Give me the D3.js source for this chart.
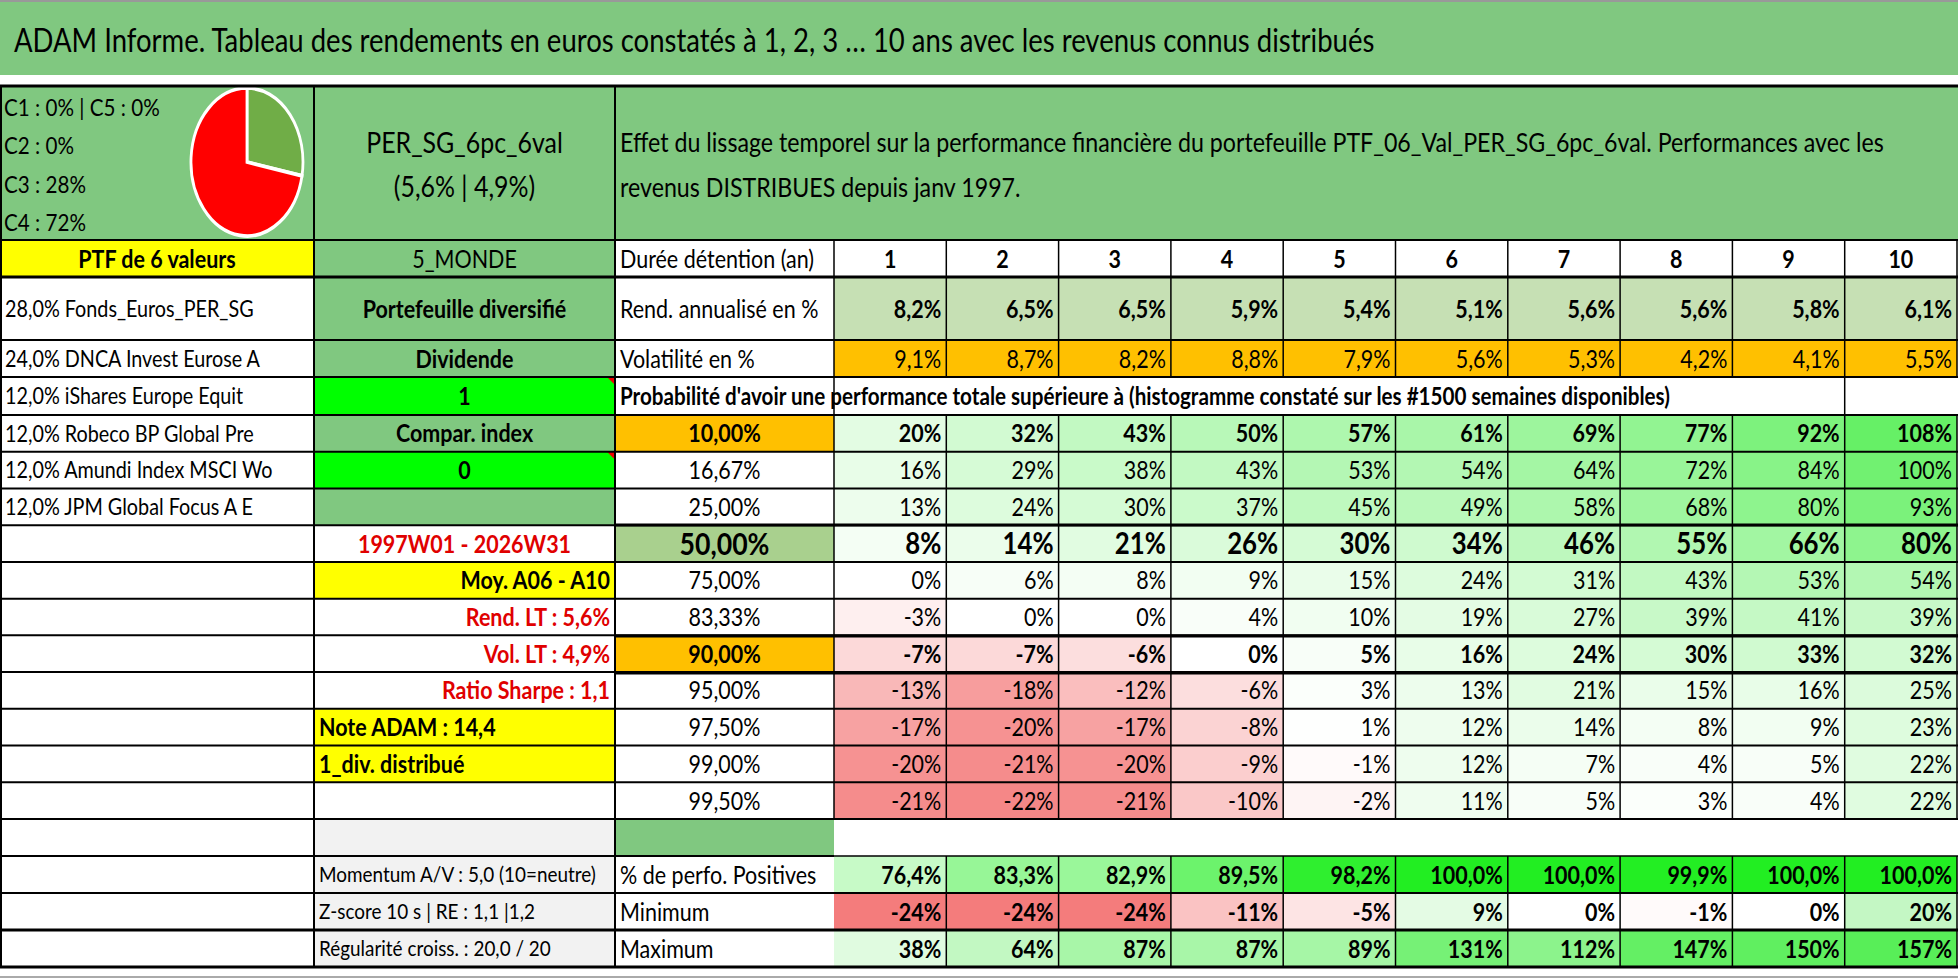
<!DOCTYPE html>
<html>
<head>
<style>
  body { margin: 0; background: #fff; }
  text { font-family: Lato, "Open Sans", sans-serif; }
</style>
</head>
<body>
<script src="https://d3js.org/d3.v7.min.js"></script>
<script>
// ---- data ----
var years = [1, 2, 3, 4, 5, 6, 7, 8, 9, 10];
var rend = [8.2, 6.5, 6.5, 5.9, 5.4, 5.1, 5.6, 5.6, 5.8, 6.1];
var vol = [9.1, 8.7, 8.2, 8.8, 7.9, 5.6, 5.3, 4.2, 4.1, 5.5];
var quantiles = ["10,00%", "16,67%", "25,00%", "50,00%", "75,00%", "83,33%", "90,00%", "95,00%", "97,50%", "99,00%", "99,50%"];
var probMatrix = [
  [20, 32, 43, 50, 57, 61, 69, 77, 92, 108],
  [16, 29, 38, 43, 53, 54, 64, 72, 84, 100],
  [13, 24, 30, 37, 45, 49, 58, 68, 80, 93],
  [8, 14, 21, 26, 30, 34, 46, 55, 66, 80],
  [0, 6, 8, 9, 15, 24, 31, 43, 53, 54],
  [-3, 0, 0, 4, 10, 19, 27, 39, 41, 39],
  [-7, -7, -6, 0, 5, 16, 24, 30, 33, 32],
  [-13, -18, -12, -6, 3, 13, 21, 15, 16, 25],
  [-17, -20, -17, -8, 1, 12, 14, 8, 9, 23],
  [-20, -21, -20, -9, -1, 12, 7, 4, 5, 22],
  [-21, -22, -21, -10, -2, 11, 5, 3, 4, 22]
];
var positives = [76.4, 83.3, 82.9, 89.5, 98.2, 100.0, 100.0, 99.9, 100.0, 100.0];
var minimum = [-24, -24, -24, -11, -5, 9, 0, -1, 0, 20];
var maximum = [38, 64, 87, 87, 89, 131, 112, 147, 150, 157];
var holdings = ["28,0% Fonds_Euros_PER_SG", "24,0% DNCA Invest Eurose A", "12,0% iShares Europe Equit",
  "12,0% Robeco BP Global Pre", "12,0% Amundi Index MSCI Wo", "12,0% JPM Global Focus A E"];
var pieLabels = ["C1 : 0% | C5 : 0%", "C2 : 0%", "C3 : 28%", "C4 : 72%"];
var pieShares = [28, 72];

// ---- layout ----
var W = 1958, H = 979;
var SX = 0.86; // horizontal squeeze to imitate the narrow spreadsheet font
var GREEN = "#80c880", YELLOW = "#ffff00", ORANGE = "#ffc000", LIME = "#00ff00";
var svg = d3.select("body").append("svg").attr("width", W).attr("height", H);

var colX = [0, 314, 615, 834];
var x = d3.scaleBand().domain(years).range([834, 1957]);
var qY = d3.scaleBand().domain(quantiles).range([415, 819]);

function fmt(v, d) { return (d ? v.toFixed(d) : String(v)).replace(".", ",") + "%"; }

function label(tx, ty, s, o) {
  return svg.append("text").attr("transform", "translate(" + tx + "," + ty + ") scale(" + SX + ",1)")
    .attr("dy", "0.36em").attr("text-anchor", o.anchor || "middle").attr("font-size", o.size || 25)
    .attr("font-weight", o.bold ? "bold" : "normal").attr("fill", o.color || "#000").text(s);
}

function cell(x0, x1, y0, y1, o) {
  o = o || {};
  if (o.fill) svg.append("rect").attr("x", x0).attr("y", y0).attr("width", x1 - x0).attr("height", y1 - y0).attr("fill", o.fill);
  if (o.text == null) return;
  var a = o.anchor || "middle";
  var tx = a === "middle" ? (x0 + x1) / 2 : a === "end" ? x1 - 5 : x0 + 5;
  label(tx, (y0 + y1) / 2, o.text, o);
}

// title
svg.append("rect").attr("x", 0).attr("y", 0).attr("width", W).attr("height", 75).attr("fill", GREEN);
svg.append("line").attr("x1", 0).attr("x2", W).attr("y1", 1).attr("y2", 1).attr("stroke", "#999").attr("stroke-width", 2);
label(14, 40, "ADAM Informe. Tableau des rendements en euros constatés à 1, 2, 3 … 10 ans avec les revenus connus distribués", { anchor: "start", size: 32 });

// header block
cell(0, W, 86, 240, { fill: GREEN });
pieLabels.forEach(function (l, i) { label(4, 107 + i * 38.5, l, { anchor: "start", size: 24 }); });
var pie = d3.pie().sort(null)(pieShares);
var arc = d3.arc().innerRadius(0).outerRadius(1);
var pg = svg.append("g").attr("transform", "translate(247,162) scale(56,74)");
pg.selectAll("path").data(pie).enter().append("path")
  .attr("d", arc).attr("fill", function (d, i) { return i === 0 ? "#70ad47" : "#ff0000"; })
  .attr("stroke", "#fff").attr("stroke-width", 0.05);
label((colX[1] + colX[2]) / 2, 143, "PER_SG_6pc_6val", { size: 29 });
label((colX[1] + colX[2]) / 2, 187, "(5,6% | 4,9%)", { size: 29 });
label(620, 142, "Effet du lissage temporel sur la performance financière du portefeuille PTF_06_Val_PER_SG_6pc_6val. Performances avec les", { anchor: "start", size: 27 });
label(620, 187, "revenus DISTRIBUES depuis janv 1997.", { anchor: "start", size: 27 });

// PTF row
cell(colX[0], colX[1], 240, 277, { fill: YELLOW, text: "PTF de 6 valeurs", bold: true });
cell(colX[1], colX[2], 240, 277, { fill: GREEN, text: "5_MONDE" });
cell(colX[2], colX[3], 240, 277, { text: "Durée détention (an)", anchor: "start" });
years.forEach(function (y) { cell(x(y), x(y) + x.bandwidth(), 240, 277, { text: String(y), bold: true }); });

// holdings in column 0
function qRow(i) { return [qY(quantiles[i]), qY(quantiles[i]) + qY.bandwidth()]; }
var holdRows = [[277, 340], [340, 377], [377, 415], qRow(0), qRow(1), qRow(2)];
holdings.forEach(function (h, i) { cell(0, colX[1], holdRows[i][0], holdRows[i][1], { text: h, anchor: "start", size: 23 }); });

// column 1 side info
var side = [
  [holdRows[0], { fill: GREEN, text: "Portefeuille diversifié", bold: true }],
  [holdRows[1], { fill: GREEN, text: "Dividende", bold: true }],
  [holdRows[2], { fill: LIME, text: "1", bold: true }],
  [holdRows[3], { fill: GREEN, text: "Compar. index", bold: true }],
  [holdRows[4], { fill: LIME, text: "0", bold: true }],
  [holdRows[5], { fill: GREEN }]
];
side.forEach(function (s) { cell(colX[1], colX[2], s[0][0], s[0][1], s[1]); });
[holdRows[2], holdRows[4]].forEach(function (r) {
  svg.append("path").attr("d", "M" + (colX[2] - 8) + "," + r[0] + "h8v8z").attr("fill", "#e00");
});
var qSide = {
  "50,00%": { text: "1997W01 - 2026W31", color: "#e00000", bold: true },
  "75,00%": { fill: YELLOW, text: "Moy. A06 - A10", anchor: "end", bold: true },
  "83,33%": { text: "Rend. LT : 5,6%", anchor: "end", bold: true, color: "#e00000" },
  "90,00%": { text: "Vol. LT : 4,9%", anchor: "end", bold: true, color: "#e00000" },
  "95,00%": { text: "Ratio Sharpe : 1,1", anchor: "end", bold: true, color: "#e00000" },
  "97,50%": { fill: YELLOW, text: "Note ADAM : 14,4", anchor: "start", bold: true },
  "99,00%": { fill: YELLOW, text: "1_div. distribué", anchor: "start", bold: true }
};
Object.keys(qSide).forEach(function (q) { cell(colX[1], colX[2], qY(q), qY(q) + qY.bandwidth(), qSide[q]); });

// rend & vol rows
cell(colX[2], colX[3], 277, 340, { text: "Rend. annualisé en %", anchor: "start" });
cell(colX[2], colX[3], 340, 377, { text: "Volatilité en %", anchor: "start" });
years.forEach(function (y, i) {
  cell(x(y), x(y) + x.bandwidth(), 277, 340, { fill: "#c6e0b4", text: fmt(rend[i], 1), anchor: "end", bold: true });
  cell(x(y), x(y) + x.bandwidth(), 340, 377, { fill: ORANGE, text: fmt(vol[i], 1), anchor: "end" });
});
cell(colX[2], x(10), 377, 415, { text: "Probabilité d'avoir une performance totale supérieure à (histogramme constaté sur les #1500 semaines disponibles)", anchor: "start", bold: true, size: 24 });

// quantile matrix
var matColor = d3.scaleLinear().domain([-24, 0, 120]).range(["#f47c7c", "#ffffff", "#55ee55"]).clamp(true);
var boldQ = { "10,00%": 1, "50,00%": 1, "90,00%": 1 };
quantiles.forEach(function (q, r) {
  var y0 = qY(q), y1 = y0 + qY.bandwidth();
  var big = q === "50,00%";
  var qfill = q === "10,00%" || q === "90,00%" ? ORANGE : big ? "#a9d08e" : null;
  cell(colX[2], colX[3], y0, y1, { fill: qfill, text: q, bold: boldQ[q], size: big ? 31 : 25 });
  years.forEach(function (y, i) {
    var v = probMatrix[r][i];
    cell(x(y), x(y) + x.bandwidth(), y0, y1, { fill: matColor(v), text: fmt(v), anchor: "end", bold: boldQ[q], size: big ? 30 : 25 });
  });
});

// blank + summary rows
cell(colX[1], colX[2], 819, 967, { fill: "#f2f2f2" });
cell(colX[2], colX[3], 819, 856, { fill: GREEN });
cell(colX[1], colX[2], 856, 893, { text: "Momentum A/V : 5,0 (10=neutre)", anchor: "start", size: 22 });
cell(colX[1], colX[2], 893, 930, { text: "Z-score 10 s | RE : 1,1 |1,2", anchor: "start", size: 22 });
cell(colX[1], colX[2], 930, 967, { text: "Régularité croiss. : 20,0 / 20", anchor: "start", size: 22 });
cell(colX[2], colX[3], 856, 893, { text: "% de perfo. Positives", anchor: "start" });
cell(colX[2], colX[3], 893, 930, { text: "Minimum", anchor: "start" });
cell(colX[2], colX[3], 930, 967, { text: "Maximum", anchor: "start" });
var posColor = d3.scaleLinear().domain([70, 100]).range(["#f4fdf4", "#22ee22"]).clamp(true);
var minColor = d3.scaleLinear().domain([-24, 0, 40]).range(["#f47c7c", "#ffffff", "#88ee88"]).clamp(true);
var maxColor = d3.scaleLinear().domain([20, 160]).range(["#f4fdf4", "#55ee55"]).clamp(true);
years.forEach(function (y, i) {
  var x0 = x(y), x1 = x0 + x.bandwidth();
  cell(x0, x1, 856, 893, { fill: posColor(positives[i]), text: fmt(positives[i], 1), anchor: "end", bold: true });
  cell(x0, x1, 893, 930, { fill: minColor(minimum[i]), text: fmt(minimum[i]), anchor: "end", bold: true });
  cell(x0, x1, 930, 967, { fill: maxColor(maximum[i]), text: fmt(maximum[i]), anchor: "end", bold: true });
});

// ---- grid lines ----
var g = svg.append("g").attr("stroke", "#000").attr("fill", "none");
function hl(x0, x1, y, w) { g.append("line").attr("x1", x0).attr("x2", x1).attr("y1", y).attr("y2", y).attr("stroke-width", w || 2); }
function vl(xx, y0, y1, w) { g.append("line").attr("x1", xx).attr("x2", xx).attr("y1", y0).attr("y2", y1).attr("stroke-width", w || 1.5); }
hl(0, W, 86, 3);
[240, 277, 340, 377, 415].forEach(function (y) { hl(0, W, y, y === 277 ? 3 : 2); });
quantiles.forEach(function (q) { hl(0, W, qY(q) + qY.bandwidth(), 2); });
hl(0, colX[3], 856, 2); hl(colX[3], W, 856, 1.5);
hl(0, W, 893, 2); hl(0, W, 930, 3); hl(0, W, 967, 3);
hl(colX[2], W, 525, 3); hl(colX[2], W, 636, 3); hl(colX[2], W, 673, 3);
vl(1, 86, 967, 2); vl(colX[1], 86, 967, 2); vl(colX[2], 86, 967, 2); vl(colX[3], 240, 819);
years.forEach(function (y) {
  var xx = x(y) + x.bandwidth();
  vl(xx, 240, 377); vl(xx, 415, 819); vl(xx, 856, 967);
});
vl(x(10), 377, 415);
svg.append("line").attr("x1", 0).attr("x2", W).attr("y1", 977).attr("y2", 977).attr("stroke", "#aaa").attr("stroke-width", 2);
</script>
</body>
</html>
